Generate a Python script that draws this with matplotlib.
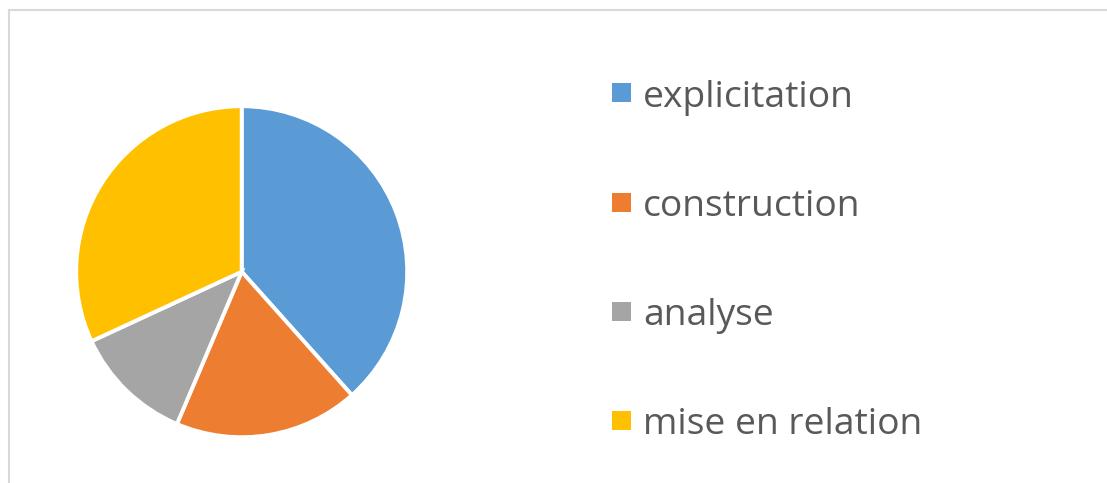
import matplotlib
matplotlib.use("Agg")
import matplotlib.pyplot as plt
from matplotlib.patches import Rectangle
from matplotlib.lines import Line2D

labels = ["explicitation", "construction", "analyse", "mise en relation"]
values = [38.4, 18.0, 11.7, 31.9]
colors = ["#5B9BD5", "#ED7D31", "#A5A5A5", "#FFC000"]

W, H = 1107, 483
fig = plt.figure(figsize=(W / 100, H / 100), dpi=100)
fig.patch.set_facecolor("white")

# border (left and top visible)
fig.add_artist(Line2D([9 / W, 9 / W], [0, 1 - 10 / H], transform=fig.transFigure,
                      color="#d9d9d9", lw=1.5))
fig.add_artist(Line2D([9 / W, 1], [1 - 10 / H, 1 - 10 / H], transform=fig.transFigure,
                      color="#d9d9d9", lw=1.5))

cx, cy, r = 241.7, 271.7, 165.5
ax = fig.add_axes([(cx - r) / W, 1 - (cy + r) / H, 2 * r / W, 2 * r / H])
ax.pie(values, colors=colors, startangle=90, counterclock=False, radius=1,
       wedgeprops=dict(edgecolor="white", linewidth=2.8))
ax.set_xlim(-1, 1)
ax.set_ylim(-1, 1)
ax.set_aspect("equal")
ax.axis("off")

# legend
ys = [92, 202, 311, 420]
for lab, col, y in zip(labels, colors, ys):
    fig.add_artist(Rectangle(((612) / W, 1 - (y + 9.5) / H), 19 / W, 19 / H,
                             transform=fig.transFigure, facecolor=col, edgecolor="none"))
    fig.text(643 / W, 1 - (y + 1) / H, lab, fontsize=26.8, color="#595959",
             family="Open Sans", va="center_baseline", ha="left")

fig.savefig("out.png", dpi=100)
